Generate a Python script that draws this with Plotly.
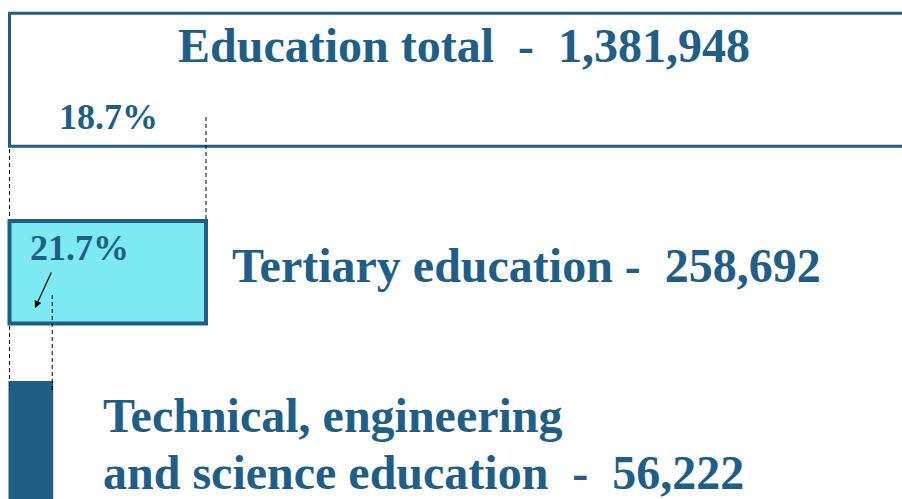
import plotly.graph_objects as go

# ---- data ----
levels = ["Education total", "Tertiary education", "Technical, engineering and science education"]
students = [1381948, 258692, 56222]

share_tertiary = students[1] / students[0]          # share of total
share_technical = students[2] / students[0]         # share of total
pct_tertiary = f"{students[1] / students[0] * 100:.1f}%"
pct_technical = f"{students[2] / students[1] * 100:.1f}%"

DARK = "#215E86"
CYAN = "#7DE9F2"
W, H = 902, 499
FONT = "Liberation Serif"
NB = "\u00a0"

fig = go.Figure()
# invisible trace to set up axes
fig.add_trace(go.Scatter(x=[0], y=[0], mode="markers", marker=dict(opacity=0), showlegend=False, hoverinfo="skip"))

PX = 1049.7  # pixels per unit share (layout scale)
X0 = 9.5
fig.update_xaxes(range=[-X0 / PX, (W - X0) / PX], visible=False, fixedrange=True)
fig.update_yaxes(range=[H, 0], visible=False, fixedrange=True)

shapes = []
# top box (education total)
shapes.append(dict(type="rect", xref="x", yref="y", x0=0, x1=1.0, y0=13.3, y1=146.3,
                   line=dict(color=DARK, width=3), fillcolor="white", layer="below"))
# middle box (tertiary)
shapes.append(dict(type="rect", xref="x", yref="y", x0=0, x1=share_tertiary, y0=221, y1=323.5,
                   line=dict(color=DARK, width=4), fillcolor=CYAN, layer="below"))
# bottom box (technical)
shapes.append(dict(type="rect", xref="x", yref="y", x0=0, x1=share_technical, y0=382, y1=520,
                   line=dict(color=DARK, width=2), fillcolor=DARK, layer="below"))
# dashed guides
dash = dict(color="black", width=1, dash="4px,3px")
shapes.append(dict(type="line", xref="x", yref="y", x0=0, x1=0, y0=149, y1=219, line=dash))
shapes.append(dict(type="line", xref="x", yref="y", x0=share_tertiary, x1=share_tertiary, y0=117, y1=219, line=dash))
shapes.append(dict(type="line", xref="x", yref="y", x0=0, x1=0, y0=326, y1=390, line=dash))
shapes.append(dict(type="line", xref="x", yref="y", x0=share_technical, x1=share_technical, y0=295, y1=390, line=dash))
fig.update_layout(shapes=shapes)


def px(x):
    return x / W


def py(y):
    return 1 - y / H


def label(text, x, y, size, anchor="left"):
    fig.add_annotation(text=f"<b>{text}</b>", xref="paper", yref="paper", x=px(x), y=py(y),
                       xanchor=anchor, yanchor="middle", showarrow=False,
                       font=dict(family=FONT, size=size, color=DARK))


label(f"{levels[0]}{NB}{NB}-{NB}{NB}{students[0]:,}", 176, 46, 48)
label(pct_tertiary, 57, 117, 36)
label(f"{levels[1]}{NB}-{NB}{NB}{students[1]:,}", 230, 265, 48)
label(pct_technical, 28, 248, 36)
label("Technical, engineering", 101, 415, 48)
label(f"and science education{NB}{NB}-{NB}{NB}{students[2]:,}", 101, 472, 48)

# arrow
fig.add_annotation(xref="paper", yref="paper", x=px(35), y=py(308), ax=17, ay=-37,
                   axref="pixel", ayref="pixel", text="", showarrow=True,
                   arrowhead=2, arrowsize=1.2, arrowwidth=1.2, arrowcolor="black")

fig.update_layout(width=W, height=H, margin=dict(l=0, r=0, t=0, b=0),
                  paper_bgcolor="white", plot_bgcolor="white")
fig.write_html("out.html", config={"displayModeBar": False, "staticPlot": True},
               post_script="document.body.style.margin='0';document.body.style.overflow='hidden';")
